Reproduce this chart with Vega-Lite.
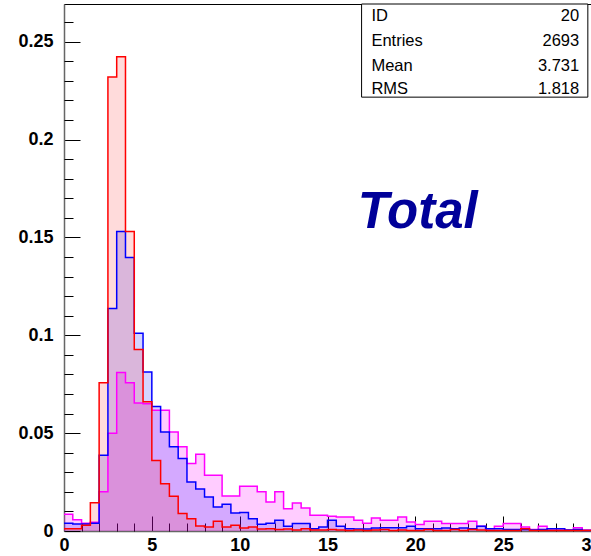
{
  "$schema": "https://vega.github.io/schema/vega-lite/v6.json",
  "width": 527,
  "height": 527,
  "autosize": {"type": "none"},
  "padding": {"left": 64, "top": 4, "right": 0, "bottom": 25},
  "background": "white",
  "config": {
    "view": {"stroke": "#000000", "strokeWidth": 1},
    "axis": {"labelFont": "Liberation Sans", "labelFontWeight": "bold", "labelFontSize": 18, "labelColor": "#000", "grid": false, "zindex": 1}
  },
  "datasets": {
    "hist": [
      {"x": 0, "r": 0.0012, "b": 0.0040, "m": 0.0085},
      {"x": 0.5, "r": 0.0012, "b": 0.0036, "m": 0.0058},
      {"x": 1, "r": 0.0030, "b": 0.0036, "m": 0.0040},
      {"x": 1.5, "r": 0.0145, "b": 0.0040, "m": 0.0045},
      {"x": 2, "r": 0.0757, "b": 0.0387, "m": 0.0200},
      {"x": 2.5, "r": 0.2320, "b": 0.1137, "m": 0.0500},
      {"x": 3, "r": 0.2423, "b": 0.1530, "m": 0.0810},
      {"x": 3.5, "r": 0.1530, "b": 0.1398, "m": 0.0757},
      {"x": 4, "r": 0.0927, "b": 0.1010, "m": 0.0654},
      {"x": 4.5, "r": 0.0660, "b": 0.0813, "m": 0.0650},
      {"x": 5, "r": 0.0360, "b": 0.0636, "m": 0.0617},
      {"x": 5.5, "r": 0.0242, "b": 0.0506, "m": 0.0617},
      {"x": 6, "r": 0.0177, "b": 0.0430, "m": 0.0506},
      {"x": 6.5, "r": 0.0089, "b": 0.0370, "m": 0.0430},
      {"x": 7, "r": 0.0063, "b": 0.0250, "m": 0.0345},
      {"x": 7.5, "r": 0.0025, "b": 0.0215, "m": 0.0392},
      {"x": 8, "r": 0.0020, "b": 0.0174, "m": 0.0285},
      {"x": 8.5, "r": 0.0050, "b": 0.0123, "m": 0.0285},
      {"x": 9, "r": 0.0020, "b": 0.0137, "m": 0.0179},
      {"x": 9.5, "r": 0.0030, "b": 0.0092, "m": 0.0179},
      {"x": 10, "r": 0.0015, "b": 0.0095, "m": 0.0229},
      {"x": 10.5, "r": 0.0020, "b": 0.0063, "m": 0.0229},
      {"x": 11, "r": 0.0010, "b": 0.0034, "m": 0.0200},
      {"x": 11.5, "r": 0.0012, "b": 0.0040, "m": 0.0148},
      {"x": 12, "r": 0.0008, "b": 0.0055, "m": 0.0200},
      {"x": 12.5, "r": 0.0010, "b": 0.0024, "m": 0.0114},
      {"x": 13, "r": 0.0005, "b": 0.0038, "m": 0.0143},
      {"x": 13.5, "r": 0.0012, "b": 0.0038, "m": 0.0118},
      {"x": 14, "r": 0.0005, "b": 0.0012, "m": 0.0080},
      {"x": 14.5, "r": 0.0005, "b": 0.0020, "m": 0.0080},
      {"x": 15, "r": 0.0008, "b": 0.0055, "m": 0.0075},
      {"x": 15.5, "r": 0.0005, "b": 0.0024, "m": 0.0072},
      {"x": 16, "r": 0.0003, "b": 0.0012, "m": 0.0072},
      {"x": 16.5, "r": 0.0005, "b": 0.0010, "m": 0.0055},
      {"x": 17, "r": 0.0003, "b": 0.0010, "m": 0.0040},
      {"x": 17.5, "r": 0.0005, "b": 0.0015, "m": 0.0066},
      {"x": 18, "r": 0.0008, "b": 0.0017, "m": 0.0055},
      {"x": 18.5, "r": 0.0003, "b": 0.0017, "m": 0.0055},
      {"x": 19, "r": 0.0005, "b": 0.0017, "m": 0.0072},
      {"x": 19.5, "r": 0.0003, "b": 0.0024, "m": 0.0046},
      {"x": 20, "r": 0.0003, "b": 0.0012, "m": 0.0033},
      {"x": 20.5, "r": 0.0008, "b": 0.0012, "m": 0.0050},
      {"x": 21, "r": 0.0003, "b": 0.0012, "m": 0.0050},
      {"x": 21.5, "r": 0.0003, "b": 0.0015, "m": 0.0038},
      {"x": 22, "r": 0.0008, "b": 0.0012, "m": 0.0038},
      {"x": 22.5, "r": 0.0003, "b": 0.0015, "m": 0.0038},
      {"x": 23, "r": 0.0008, "b": 0.0012, "m": 0.0050},
      {"x": 23.5, "r": 0.0005, "b": 0.0024, "m": 0.0024},
      {"x": 24, "r": 0.0003, "b": 0.0012, "m": 0.0012},
      {"x": 24.5, "r": 0.0003, "b": 0.0012, "m": 0.0024},
      {"x": 25, "r": 0.0003, "b": 0.0008, "m": 0.0038},
      {"x": 25.5, "r": 0.0003, "b": 0.0008, "m": 0.0038},
      {"x": 26, "r": 0.0012, "b": 0.0008, "m": 0.0020},
      {"x": 26.5, "r": 0.0003, "b": 0.0005, "m": 0.0008},
      {"x": 27, "r": 0.0003, "b": 0.0008, "m": 0.0024},
      {"x": 27.5, "r": 0.0003, "b": 0.0012, "m": 0.0012},
      {"x": 28, "r": 0.0003, "b": 0.0012, "m": 0.0012},
      {"x": 28.5, "r": 0.0003, "b": 0.0005, "m": 0.0005},
      {"x": 29, "r": 0.0003, "b": 0.0008, "m": 0.0017},
      {"x": 29.5, "r": 0.0003, "b": 0.0003, "m": 0.0005},
      {"x": 30, "r": 0.0003, "b": 0.0003, "m": 0.0005}
    ],
    "stats": [
      {"k": "ID", "v": "20", "row": 0.2634},
      {"k": "Entries", "v": "2693", "row": 0.2504},
      {"k": "Mean", "v": "3.731", "row": 0.2376},
      {"k": "RMS", "v": "1.818", "row": 0.2258}
    ]
  },
  "data": {"name": "hist"},
  "resolve": {"axis": {"x": "independent", "y": "independent"}},
  "layer": [
    {
      "transform": [{"fold": ["m", "b", "r"], "as": ["s", "v"]}],
      "mark": {"type": "area", "interpolate": "step-after"},
      "encoding": {
        "x": {"field": "x", "type": "quantitative", "scale": {"domain": [0, 30], "nice": false, "zero": false},
              "axis": {"orient": "bottom", "values": [0, 5, 10, 15, 20, 25, 30], "tickSize": -15, "tickColor": "#000", "tickWidth": 1, "domainColor": "#666", "domainWidth": 1.5, "labelPadding": 20, "labelFlush": false, "title": null, "labelOverlap": false, "format": "~g"}},
        "y": {"field": "v", "type": "quantitative", "stack": null, "scale": {"domain": [0, 0.2693], "nice": false},
              "axis": {"orient": "left", "values": [0, 0.05, 0.1, 0.15, 0.2, 0.25], "tickSize": -16, "tickColor": "#000", "tickWidth": 1, "domainColor": "#666", "domainWidth": 1.5, "labelPadding": 27, "title": null, "labelOverlap": false, "format": "~g"}},
        "color": {"field": "s", "type": "nominal", "legend": null,
                  "scale": {"domain": ["m", "b", "r"], "range": ["#ff00ff", "#0000ff", "#ff0000"]}},
        "fillOpacity": {"field": "s", "type": "nominal", "legend": null,
                  "scale": {"domain": ["m", "b", "r"], "range": [0.2, 0.14, 0.4]}}
      }
    },
    {
      "transform": [{"fold": ["m", "b", "r"], "as": ["s", "v"]}],
      "mark": {"type": "line", "interpolate": "step-after", "strokeWidth": 1.5},
      "encoding": {
        "x": {"field": "x", "type": "quantitative",
              "axis": {"orient": "bottom", "values": [1,2,3,4,6,7,8,9,11,12,13,14,16,17,18,19,21,22,23,24,26,27,28,29], "tickSize": -8, "tickColor": "#000", "tickWidth": 1, "labels": false, "domain": false, "title": null}},
        "y": {"field": "v", "type": "quantitative", "stack": null,
              "axis": {"orient": "left", "values": [0.01,0.02,0.03,0.04,0.06,0.07,0.08,0.09,0.11,0.12,0.13,0.14,0.16,0.17,0.18,0.19,0.21,0.22,0.23,0.24,0.26], "tickSize": -9, "tickColor": "#000", "tickWidth": 1, "labels": false, "domain": false, "title": null}},
        "color": {"field": "s", "type": "nominal", "legend": null}
      }
    },
    {
      "data": {"values": [{"a": 1}]},
      "mark": {"type": "rect", "fill": "white", "stroke": "#000", "strokeWidth": 1},
      "encoding": {
        "x": {"datum": 16.94, "type": "quantitative", "axis": null},
        "x2": {"datum": 29.82},
        "y": {"datum": 0.2217, "type": "quantitative", "axis": null},
        "y2": {"datum": 0.2693}
      }
    },
    {
      "data": {"name": "stats"},
      "mark": {"type": "text", "align": "left", "baseline": "middle", "font": "Liberation Sans", "fontSize": 16.5, "color": "#000"},
      "encoding": {
        "x": {"datum": 17.5, "type": "quantitative", "axis": null},
        "y": {"field": "row", "type": "quantitative", "axis": null},
        "text": {"field": "k"}
      }
    },
    {
      "data": {"name": "stats"},
      "mark": {"type": "text", "align": "right", "baseline": "middle", "font": "Liberation Sans", "fontSize": 16.5, "color": "#000"},
      "encoding": {
        "x": {"datum": 29.33, "type": "quantitative", "axis": null},
        "y": {"field": "row", "type": "quantitative", "axis": null},
        "text": {"field": "v"}
      }
    },
    {
      "data": {"values": [{"t": "Total"}]},
      "mark": {"type": "text", "align": "center", "baseline": "middle", "font": "Liberation Sans", "fontSize": 51, "fontWeight": "bold", "fontStyle": "italic", "color": "#000099"},
      "encoding": {
        "x": {"datum": 20.14, "type": "quantitative", "axis": null},
        "y": {"datum": 0.1624, "type": "quantitative", "axis": null},
        "text": {"field": "t"}
      }
    }
  ]
}
